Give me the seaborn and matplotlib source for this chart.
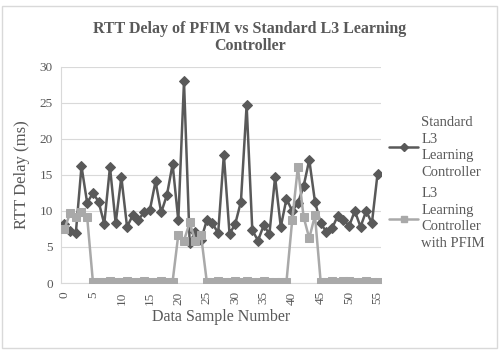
import matplotlib
matplotlib.use('Agg')
import matplotlib.pyplot as plt
import seaborn as sns
import pandas as pd
from matplotlib.lines import Line2D
from matplotlib.patches import Rectangle

# 표준 L3 컨트롤러 RTT (ms)
standard = [8.2, 7.2, 6.9, 16.2, 11.1, 12.5, 11.3, 8.2, 16.1, 8.3,
            14.7, 7.8, 9.4, 8.8, 9.8, 10.1, 14.1, 9.8, 12.2, 16.5,
            8.7, 28.0, 5.6, 7.1, 6.0, 8.7, 8.3, 6.9, 17.8, 6.8,
            8.2, 11.3, 24.7, 7.3, 5.9, 8.0, 6.8, 14.7, 7.8, 11.7,
            10.0, 11.1, 13.4, 17.1, 11.3, 8.3, 7.1, 7.6, 9.3, 8.8,
            7.9, 10.0, 7.8, 10.0, 8.3, 15.2]

# PFIM 적용 컨트롤러 RTT (ms)
pfim = [7.5, 9.7, 9.1, 9.9, 9.1, 0.2, 0.2, 0.2, 0.3, 0.2,
        0.2, 0.3, 0.2, 0.2, 0.3, 0.2, 0.2, 0.3, 0.2, 0.2,
        6.7, 5.9, 8.4, 5.8, 6.6, 0.2, 0.2, 0.3, 0.2, 0.2,
        0.3, 0.2, 0.3, 0.2, 0.2, 0.3, 0.2, 0.2, 0.2, 0.2,
        8.7, 16.1, 9.2, 6.2, 9.4, 0.2, 0.2, 0.3, 0.2, 0.3,
        0.3, 0.2, 0.2, 0.3, 0.2, 0.2]

samples = list(range(len(standard)))
x_ticks = list(range(0, 56, 5))
y_ticks = [0, 5, 10, 15, 20, 25, 30]

df = pd.DataFrame({'sample': samples, 'standard': standard, 'pfim': pfim})

dark = '#595959'
light = '#a9a9a9'
text_c = '#595959'

sns.set_style('white')
plt.rcParams['font.family'] = ['Liberation Serif', 'DejaVu Serif']

fig = plt.figure(figsize=(5, 3.52), dpi=100)
ax = fig.add_axes([0.122, 0.196, 0.64, 0.614])

sns.lineplot(data=df, x='sample', y='standard', ax=ax, color=dark, lw=1.8,
             marker='D', markersize=5, markeredgecolor=dark, zorder=3)
sns.lineplot(data=df, x='sample', y='pfim', ax=ax, color=light, lw=1.8,
             marker='s', markersize=6, markeredgecolor=light, zorder=4)

ax.set_xlim(-0.6, 55.6)
ax.set_ylim(0, 30)
ax.set_xticks(x_ticks)
ax.set_yticks(y_ticks)
ax.set_xticklabels([str(t) for t in x_ticks], rotation=90, fontsize=9.5, color=text_c)
ax.set_yticklabels([str(t) for t in y_ticks], fontsize=9.5, color=text_c)
ax.tick_params(length=0, pad=6)
ax.grid(axis='y', color='#d9d9d9', lw=0.8)
ax.set_axisbelow(True)
for s in ['top', 'right']:
    ax.spines[s].set_visible(False)
ax.spines['left'].set_color('#d9d9d9')
ax.spines['bottom'].set_color('#d9d9d9')

ax.set_xlabel('Data Sample Number', fontsize=11.5, color=text_c, labelpad=3)
ax.set_ylabel('RTT Delay (ms)', fontsize=12, color=text_c, labelpad=7)

fig.text(0.5, 0.893, 'RTT Delay of PFIM vs Standard L3 Learning\nController',
         ha='center', va='center', fontsize=11.5, fontweight='bold', color=text_c,
         linespacing=1.05)

handles = [
    Line2D([], [], color=dark, lw=1.8, marker='D', markersize=4),
    Line2D([], [], color=light, lw=1.8, marker='s', markersize=5),
]
labels = ['Standard\nL3\nLearning\nController', 'L3\nLearning\nController\nwith PFIM']
leg = fig.legend(handles, labels, loc='center left', bbox_to_anchor=(0.752, 0.48),
                 frameon=False, fontsize=10.5, handlelength=2.0, handletextpad=0.2,
                 labelspacing=0.6, labelcolor=text_c)
for t in leg.get_texts():
    t.set_linespacing(1.35)

fig.patches.append(Rectangle((0.004, 0.012), 0.99, 0.97, transform=fig.transFigure,
                             fill=False, edgecolor='#d9d9d9', lw=1))

fig.savefig('out.png', dpi=100)
